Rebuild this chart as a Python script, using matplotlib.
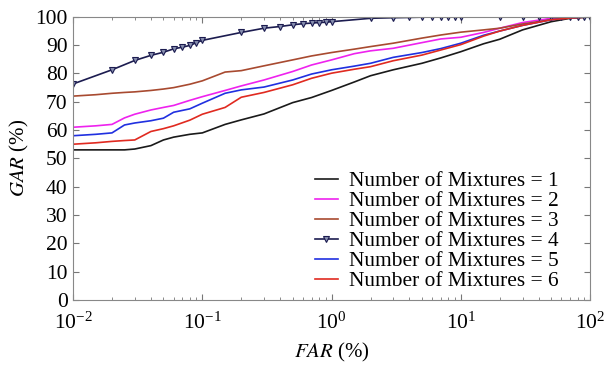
import numpy as np
import matplotlib
matplotlib.use('Agg')
import matplotlib.pyplot as plt

plt.rcParams['font.family'] = 'Liberation Serif'
plt.rcParams['mathtext.fontset'] = 'stix'

# FAR grid (%) shared by the jagged curves
far = [0.01, 0.015, 0.02, 0.025, 0.03, 0.04, 0.05, 0.06, 0.08, 0.1, 0.15, 0.2,
       0.3, 0.5, 0.7, 1, 1.5, 2, 3, 5, 7, 10, 15, 20, 30, 50, 70, 100]

gar1 = [53, 53, 53, 53, 53.3, 54.5, 56.5, 57.5, 58.5, 59, 62, 63.6,
        65.7, 69.7, 71.5, 74, 77, 79.2, 81.3, 83.6, 85.5, 87.7, 90.5, 92.1, 95.4, 98.3, 99.5, 100]
gar2 = [61, 61.5, 62, 64.3, 65.6, 67.1, 68, 68.7, 70.5, 71.8, 74, 75.6,
        77.7, 80.7, 83, 84.8, 87, 88, 88.9, 90.9, 92.2, 92.8, 94.5, 96, 98, 99.5, 99.8, 100]
gar3 = [72, 72.5, 73, 73.3, 73.5, 74, 74.5, 75, 76.2, 77.4, 80.5, 81,
        82.7, 84.8, 86.2, 87.4, 88.6, 89.5, 90.7, 92.5, 93.6, 94.6, 95.4, 96, 97.5, 99, 99.6, 100]
gar5 = [58, 58.5, 59, 61.8, 62.5, 63.3, 64.2, 66.3, 67.5, 69.5, 73, 74.2,
        75.2, 77.7, 79.8, 81.3, 82.6, 83.6, 85.7, 87.4, 88.8, 90.7, 93.5, 95, 97, 99, 99.7, 100]
gar6 = [55, 55.5, 56, 56.3, 56.5, 59.5, 60.5, 61.5, 63.5, 65.6, 68, 71.6,
        73.3, 76, 78.3, 80.1, 81.5, 82.4, 84.5, 86.5, 88.3, 90.2, 93.2, 95, 97, 99, 99.6, 100]

# curve 4 sampled at its markers
far4 = [0.01, 0.02, 0.03, 0.04, 0.05, 0.06, 0.07, 0.08, 0.09, 0.1,
        0.2, 0.3, 0.4, 0.5, 0.6, 0.7, 0.8, 0.9, 1,
        2, 3, 4, 5, 6, 7, 8, 9, 10,
        20, 30, 40, 50, 60, 70, 80, 90, 100]
gar4 = [76.3, 81.3, 84.6, 86.4, 87.5, 88.7, 89.3, 89.9, 90.9, 91.7,
        94.5, 96, 96.6, 97.2, 97.6, 97.8, 98, 98.1, 98.3,
        99.5, 99.7, 99.8, 99.9, 100, 100, 100, 100, 100,
        100, 100, 100, 100, 100, 100, 100, 100, 100]

labels = ['Number of Mixtures = %d' % i for i in range(1, 7)]

fig = plt.figure(figsize=(6.04, 3.67), dpi=100)
ax = fig.add_axes([0.121, 0.183, 0.856, 0.771])

ax.plot(far, gar1, color='#1a1a1a', lw=1.2, label=labels[0])
ax.plot(far, gar2, color='#ee22ee', lw=1.2, label=labels[1])
ax.plot(far, gar3, color='#a84a30', lw=1.2, label=labels[2])
ax.plot(far4, gar4, color='#1c1c50', lw=1.2, marker='v', ms=4,
        mfc='#8890b0', mec='#1c1c50', mew=0.8, label=labels[3])
ax.plot(far, gar5, color='#2030e0', lw=1.2, label=labels[4])
ax.plot(far, gar6, color='#e02a20', lw=1.2, label=labels[5])

ax.set_xscale('log')
ax.set_xlim(0.01, 100)
ax.set_ylim(0, 100)
ax.set_yticks(np.arange(0, 101, 10))
ax.tick_params(which='both', direction='in', top=True, right=True,
               labelsize=15.5, color='#777777')
ax.tick_params(axis='y', pad=4)
ax.tick_params(axis='x', pad=9)
ax.tick_params(which='major', length=4)
ax.tick_params(which='minor', length=2)
for s in ax.spines.values():
    s.set_color('#888888')

ax.set_xlabel(r'$\mathit{FAR}$ (%)', fontsize=15, labelpad=5)
ax.set_ylabel(r'$\mathit{GAR}$ (%)', fontsize=15, labelpad=3)

ax.legend(loc='lower right', frameon=False, fontsize=15.4, labelspacing=0.0,
          handlelength=1.1, handletextpad=0.5, borderaxespad=0.3,
          bbox_to_anchor=(0.968, -0.022))

fig.savefig('out.png', dpi=100)
